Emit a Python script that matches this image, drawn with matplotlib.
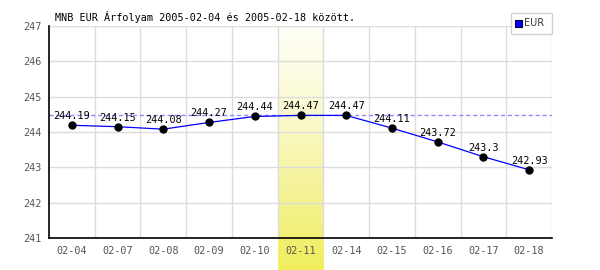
import numpy as np
import matplotlib
matplotlib.use("Agg")
import matplotlib.pyplot as plt
from matplotlib.patches import Rectangle
from matplotlib.colors import LinearSegmentedColormap

categories = ["02-04", "02-07", "02-08", "02-09", "02-10", "02-11",
              "02-14", "02-15", "02-16", "02-17", "02-18"]
values = [244.19, 244.15, 244.08, 244.27, 244.44, 244.47,
          244.47, 244.11, 243.72, 243.3, 242.93]
value_labels = ["244.19", "244.15", "244.08", "244.27", "244.44", "244.47",
                "244.47", "244.11", "243.72", "243.3", "242.93"]
y_ticks = [241, 242, 243, 244, 245, 246, 247]
highlight_index = 5
title = "MNB EUR Árfolyam 2005-02-04 és 2005-02-18 között."
series_name = "EUR"

W, H = 600, 270
fig = plt.figure(figsize=(6, 2.7), dpi=100)
fig.patch.set_facecolor("white")

def fx(px):
    return px / W

def fy(py):
    return 1 - py / H

ax = fig.add_axes([fx(49), fy(238), fx(552) - fx(49), fy(26) - fy(238)])
ax.set_facecolor("none")
n = len(categories)
ax.set_xlim(0, n)
ax.set_ylim(241, 247)

mono = "DejaVu Sans Mono"

# grid
for k in range(1, n + 1):
    ax.axvline(k, color="#dcdcdc", lw=1.0, zorder=1)
for yv in y_ticks:
    ax.axhline(yv, color="#dcdcdc", lw=1.0, zorder=1)

# highlight band with gradient, extending to figure bottom
fig.canvas.draw()
inv = ax.transData.inverted()
ybottom = inv.transform(fig.transFigure.transform((0, 0)))[1]
cmap = LinearSegmentedColormap.from_list("band", ["#f0ee5c", "#f5f398", "#fbfad2", "#fffff8"])
grad = np.linspace(0, 1, 256).reshape(-1, 1)
ax.imshow(grad, cmap=cmap, aspect="auto", origin="lower",
          extent=(highlight_index, highlight_index + 1, ybottom, 247),
          zorder=0.5, clip_on=False)

# max dashed line
ymax = max(values)
ax.axhline(ymax, color="#8c8cff", lw=1.0, ls=(0, (3, 2)), zorder=2)

xs = np.arange(n) + 0.5
ax.plot(xs, values, color="#0000ff", lw=0.9, zorder=3)
ax.plot(xs, values, ls="none", marker="o", ms=5.0, color="black", zorder=4)

for x, v, lab in zip(xs, values, value_labels):
    ax.annotate(lab, (x, v), xytext=(0, 4), textcoords="offset pixels",
                ha="center", va="bottom", fontsize=7.3, family=mono,
                color="black", zorder=5)

for s in ["top", "right"]:
    ax.spines[s].set_visible(False)
ax.spines["left"].set_color("black")
ax.spines["bottom"].set_color("black")
ax.spines["left"].set_linewidth(1.2)
ax.spines["bottom"].set_linewidth(1.2)
ax.spines["left"].set_zorder(6)
ax.spines["bottom"].set_zorder(6)

ax.set_xticks(xs)
ax.set_xticklabels(categories, family=mono, fontsize=7.3, color="#555555")
ax.set_yticks(y_ticks)
ax.set_yticklabels([str(t) for t in y_ticks], family=mono, fontsize=7.3, color="#555555")
ax.tick_params(length=0, pad=6)
ax.tick_params(axis="y", pad=5)

fig.text(fx(55), fy(17), title, family=mono, fontsize=7.3, color="black",
         ha="left", va="center")

# legend box
fig.patches.append(Rectangle((fx(511), fy(34)), fx(552) - fx(511), fy(13) - fy(34),
                             transform=fig.transFigure, facecolor="white",
                             edgecolor="#d0d0d0", lw=1.0, zorder=10))
fig.patches.append(Rectangle((fx(515), fy(27)), fx(7), fy(0) - fy(7),
                             transform=fig.transFigure, facecolor="#0000ff",
                             edgecolor="#000033", lw=0.8, zorder=11))
fig.text(fx(524), fy(23.5), series_name, fontsize=7.0, color="#333333",
         ha="left", va="center", zorder=12)

fig.savefig("out.png", dpi=100, facecolor="white")
